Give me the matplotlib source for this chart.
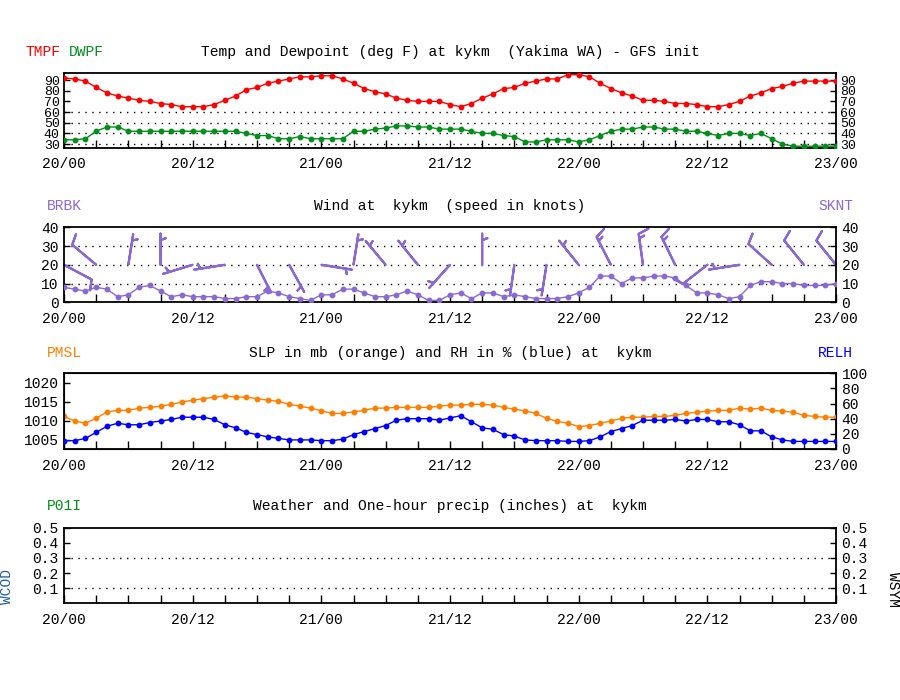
import numpy as np
import matplotlib
matplotlib.use("Agg")
import matplotlib.pyplot as plt

# ---------------- data ----------------
hours = list(range(0, 73))
xtick_labels = ['20/00', '20/12', '21/00', '21/12', '22/00', '22/12', '23/00']

tmpf = [92, 91, 89, 83, 78, 75, 73, 71, 70, 68, 67, 65, 65, 65, 67, 71, 75, 81, 83, 87,
        89, 91, 93, 93, 94, 94, 91, 87, 82, 79, 77, 73, 71, 70, 70, 70, 67, 65, 68, 73,
        77, 82, 83, 87, 89, 91, 91, 95, 95, 93, 87, 82, 78, 75, 71, 71, 70, 68, 68, 67,
        65, 65, 67, 70, 75, 78, 82, 84, 87, 89, 89, 89, 89]
dwpf = [34, 34, 35, 42, 46, 46, 42, 42, 42, 42, 42, 42, 42, 42, 42, 42, 42, 40, 38, 38,
        35, 35, 37, 35, 35, 35, 35, 42, 42, 44, 45, 47, 47, 46, 46, 44, 44, 44, 42, 40,
        40, 38, 37, 32, 32, 34, 34, 34, 32, 34, 38, 42, 44, 44, 46, 46, 44, 44, 42, 42,
        40, 38, 40, 40, 38, 40, 35, 30, 28, 28, 28, 28, 28]
sknt = [8, 7, 6, 8, 7, 3, 4, 8, 9, 6, 3, 4, 3, 3, 3, 2, 2, 3, 3, 6,
        5, 3, 2, 1, 4, 4, 7, 7, 5, 3, 3, 4, 6, 4, 1, 1, 4, 5, 2, 5,
        5, 3, 4, 3, 2, 2, 2, 3, 5, 8, 14, 14, 10, 13, 13, 14, 14, 13, 9, 5,
        5, 4, 2, 3, 9, 11, 11, 10, 10, 9, 9, 9, 10]
barb_hours = list(range(0, 73, 3))
barb_dir = [118, 310, 9, 0, 253, 261, 153, 151, 99, 9, 320, 321, 222, 0, 188, 189,
            321, 333, 352, 334, 232, 261, 312, 321, 321]
barb_knots = [10, 10, 5, 5, 5, 5, 5, 5, 5, 5, 5, 5, 5, 5, 5, 5,
              5, 15, 15, 15, 10, 5, 10, 10, 10]
pmsl = [1011.1, 1009.9, 1009.3, 1010.6, 1012.3, 1012.7, 1012.7, 1013.3, 1013.5, 1013.8,
        1014.3, 1014.9, 1015.4, 1015.8, 1016.2, 1016.5, 1016.2, 1016.2, 1015.8, 1015.4,
        1015.1, 1014.3, 1013.8, 1013.3, 1012.6, 1011.9, 1011.9, 1012.3, 1012.7, 1013.3,
        1013.3, 1013.5, 1013.5, 1013.5, 1013.5, 1013.8, 1014.1, 1014.1, 1014.3, 1014.3,
        1014.1, 1013.5, 1013.0, 1012.6, 1011.9, 1010.6, 1009.8, 1009.3, 1008.4, 1008.7,
        1009.3, 1009.9, 1010.6, 1010.9, 1010.9, 1011.1, 1011.1, 1011.4, 1011.9, 1012.2,
        1012.5, 1012.7, 1012.7, 1013.3, 1013.0, 1013.3, 1012.7, 1012.5, 1012.2, 1011.4,
        1011.1, 1010.9, 1010.9]
relh = [11, 11, 14, 22, 30, 34, 32, 32, 35, 37, 39, 42, 42, 42, 39, 32, 28, 22, 19, 16,
        14, 12, 12, 12, 11, 11, 13, 19, 23, 27, 31, 38, 40, 40, 40, 38, 41, 44, 36, 28,
        26, 19, 17, 12, 11, 11, 11, 10, 10, 11, 16, 23, 27, 31, 38, 38, 38, 39, 37, 39,
        39, 36, 36, 32, 24, 24, 16, 12, 10, 10, 10, 10, 10]

temp_ticks = [30, 40, 50, 60, 70, 80, 90]
temp_grid = [30, 40, 50, 60]
wind_ticks = [0, 10, 20, 30, 40]
wind_grid = [10, 20, 30]
slp_ticks = [1005, 1010, 1015, 1020]
rh_ticks = [0, 20, 40, 60, 80, 100]
precip_ticks = [0.1, 0.2, 0.3, 0.4, 0.5]
precip_grid = [0.1, 0.3]

# ---------------- style ----------------
MONO = ['Liberation Mono', 'DejaVu Sans Mono']
plt.rcParams['font.family'] = MONO
FS = 10.5
RED = '#ff0000'
GREEN = '#00901a'
PURPLE = '#8a6ad2'
ORANGE = '#ff8000'
BLUE = '#0000ff'

fig = plt.figure(figsize=(9, 7), dpi=100)
L, W = 64 / 900, 772 / 900


def make_ax(top_px, bot_px):
    ax = fig.add_axes([L, 1 - bot_px / 700, W, (bot_px - top_px) / 700])
    ax.set_xlim(0, 72)
    ax.set_xticks(range(0, 73, 12))
    ax.set_xticklabels(xtick_labels)
    ax.set_xticks(range(0, 73, 3), minor=True)
    ax.tick_params(axis='x', which='both', direction='in', length=6, width=1,
                   top=False, bottom=True, labelsize=FS, pad=7)
    ax.tick_params(axis='y', which='both', direction='in', length=4, width=1,
                   left=True, right=True, labelsize=FS, pad=4)
    for s in ax.spines.values():
        s.set_linewidth(1.3)
    return ax


def grid(ax, levels):
    for lv in levels:
        ax.axhline(lv, color='black', lw=1.0, ls=(0, (1, 4)), zorder=1)


mk = dict(marker='o', ms=3.2, lw=1.0)

# Panel 1: temperature / dewpoint
ax1 = make_ax(73.3, 147.7)
ax1.set_ylim(26.6, 96.3)
ax1.set_yticks(temp_ticks)
ax1.tick_params(axis='y', labelright=True, labelsize=9.5, pad=3)
grid(ax1, temp_grid)
ax1.plot(hours, tmpf, color=RED, **mk, zorder=3)
ax1.plot(hours, dwpf, color=GREEN, **mk, zorder=3)

# Panel 2: wind
ax2 = make_ax(227.3, 302.3)
ax2.set_ylim(0, 40)
ax2.set_yticks(wind_ticks)
ax2.tick_params(axis='y', labelright=True)
grid(ax2, wind_grid)
ax2.plot(hours, sknt, color=PURPLE, **mk, zorder=3)
d = np.deg2rad(np.array(barb_dir, dtype=float))
s = np.array(barb_knots, dtype=float)
u = -s * np.sin(d)
v = -s * np.cos(d)
ax2.barbs(barb_hours, [20] * len(barb_hours), u, v, length=6.7, pivot='tip',
          color=PURPLE, linewidth=1.6, rounding=False,
          sizes=dict(height=0.33, spacing=0.14, emptybarb=0.0),
          barb_increments=dict(half=5, full=10, flag=50), zorder=2, clip_on=False)

# Panel 3: SLP / RH
ax3 = make_ax(373.3, 449.0)
ax3.set_ylim(1002.5, 1022.5)
ax3.set_yticks(slp_ticks)
ax3.tick_params(axis='y', right=False)
ax3b = ax3.twinx()
ax3b.set_ylim(0, 100)
ax3b.set_yticks(rh_ticks)
ax3b.tick_params(axis='y', direction='in', length=4, width=1, labelsize=FS, pad=4)
ax3.plot(hours, pmsl, color=ORANGE, **mk, zorder=3)
ax3b.plot(hours, relh, color=BLUE, **mk, zorder=3)

# Panel 4: precip (empty)
ax4 = make_ax(527.7, 603.3)
ax4.set_ylim(0, 0.5)
ax4.set_yticks(precip_ticks)
ax4.set_yticklabels([f'{t:.1f}' for t in precip_ticks])
ax4.tick_params(axis='y', labelright=True)
grid(ax4, precip_grid)

# ---------------- texts ----------------
def ftext(xpx, ypx, txt, color='black', ha='left', **kw):
    fig.text(xpx / 900, 1 - ypx / 700, txt, color=color, ha=ha, va='center',
             fontsize=FS, **kw)

ftext(450, 52, 'Temp and Dewpoint (deg F) at kykm  (Yakima WA) - GFS init', ha='center')
ftext(25, 52, 'TMPF', RED)
ftext(69, 52, 'DWPF', GREEN)

ftext(450, 206, 'Wind at  kykm  (speed in knots)', ha='center')
ftext(47, 206, 'BRBK', PURPLE)
ftext(818, 206, 'SKNT', PURPLE)

ftext(450, 353, 'SLP in mb (orange) and RH in % (blue) at  kykm', ha='center')
ftext(47, 353, 'PMSL', ORANGE)
ftext(818, 353, 'RELH', BLUE)

ftext(450, 506, 'Weather and One-hour precip (inches) at  kykm', ha='center')
ftext(47, 506, 'P01I', GREEN)
fig.text(7 / 900, 1 - 587 / 700, 'WCOD', color='#1f5fa0', rotation=90,
         ha='center', va='center', fontsize=FS)
fig.text(893 / 900, 1 - 590 / 700, 'WSYM', color='black', rotation=270,
         ha='center', va='center', fontsize=FS)

fig.savefig('out.png', dpi=100)
